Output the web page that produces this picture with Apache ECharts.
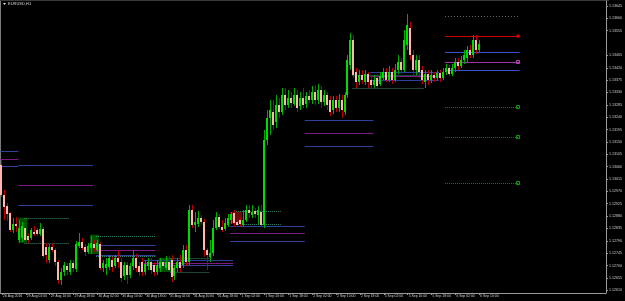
<!DOCTYPE html>
<html><head><meta charset="utf-8">
<script src="https://cdn.jsdelivr.net/npm/echarts@6/dist/echarts.min.js"></script>
<style>html,body{margin:0;padding:0;background:#000;}#c{width:625px;height:301px;}</style>
</head><body><div id="c"></div>
<script>
// ---- data ----
const title = 'EURUSD,H1';
const xTickLabels = ['26 Aug 2016','29 Aug 02:00','29 Aug 10:00','29 Aug 18:00','30 Aug 02:00','30 Aug 10:00','30 Aug 18:00','31 Aug 02:00','31 Aug 10:00','31 Aug 18:00','1 Sep 02:00','1 Sep 10:00','1 Sep 18:00','2 Sep 02:00','2 Sep 10:00','2 Sep 18:00','5 Sep 02:00','5 Sep 10:00','5 Sep 18:00','6 Sep 02:00','6 Sep 10:00'];
const yTickLabels = [1.13645,1.13600,1.13555,1.13465,1.13420,1.13375,1.13330,1.13285,1.13240,1.13195,1.13150,1.13105,1.13060,1.13015,1.12970,1.12925,1.12880,1.12835,1.12790,1.12745,1.12700,1.12655,1.12610];
const openP = [1.13066,1.12957,1.12917,1.12892,1.12830,1.12852,1.12793,1.12801,1.12837,1.12808,1.12801,1.12823,1.12830,1.12815,1.12833,1.12768,1.12721,1.12768,1.12757,1.12713,1.12648,1.12677,1.12699,1.12677,1.12710,1.12688,1.12772,1.12786,1.12768,1.12750,1.12764,1.12779,1.12757,1.12779,1.12692,1.12692,1.12695,1.12721,1.12699,1.12728,1.12713,1.12662,1.12702,1.12666,1.12699,1.12728,1.12699,1.12713,1.12677,1.12699,1.12713,1.12702,1.12677,1.12692,1.12713,1.12692,1.12713,1.12721,1.12662,1.12692,1.12713,1.12702,1.12757,1.12713,1.12903,1.12848,1.12852,1.12874,1.12859,1.12757,1.12732,1.12746,1.12837,1.12877,1.12841,1.12833,1.12848,1.12866,1.12892,1.12859,1.12866,1.12848,1.12866,1.12903,1.12884,1.12899,1.12884,1.12895,1.12848,1.13157,1.13237,1.13259,1.13223,1.13285,1.13259,1.13321,1.13285,1.13310,1.13288,1.13321,1.13281,1.13310,1.13288,1.13318,1.13303,1.13332,1.13303,1.13339,1.13296,1.13321,1.13303,1.13267,1.13303,1.13274,1.13303,1.13259,1.13321,1.13430,1.13521,1.13405,1.13368,1.13394,1.13368,1.13398,1.13376,1.13358,1.13383,1.13361,1.13383,1.13405,1.13376,1.13405,1.13376,1.13412,1.13441,1.13412,1.13503,1.13565,1.13467,1.13412,1.13449,1.13412,1.13368,1.13398,1.13376,1.13394,1.13383,1.13401,1.13383,1.13405,1.13419,1.13398,1.13419,1.13441,1.13427,1.13449,1.13456,1.13485,1.13467,1.13521,1.13485];
const highP = [1.13085,1.12975,1.12928,1.12895,1.12874,1.12877,1.12866,1.12859,1.12848,1.12819,1.12837,1.12844,1.12837,1.12855,1.12841,1.12783,1.12779,1.12783,1.12764,1.12721,1.12692,1.12713,1.12710,1.12721,1.12721,1.12790,1.12819,1.12801,1.12779,1.12783,1.12808,1.12793,1.12793,1.12786,1.12721,1.12728,1.12739,1.12732,1.12739,1.12757,1.12728,1.12713,1.12713,1.12710,1.12757,1.12742,1.12713,1.12728,1.12721,1.12728,1.12728,1.12713,1.12721,1.12728,1.12728,1.12735,1.12735,1.12739,1.12702,1.12728,1.12739,1.12775,1.12775,1.12921,1.12921,1.12895,1.12899,1.12884,1.12870,1.12764,1.12793,1.12866,1.12895,1.12888,1.12866,1.12874,1.12888,1.12895,1.12903,1.12874,1.12877,1.12903,1.12921,1.12921,1.12921,1.12910,1.12917,1.12921,1.13194,1.13267,1.13303,1.13303,1.13321,1.13310,1.13347,1.13347,1.13339,1.13332,1.13347,1.13339,1.13332,1.13347,1.13332,1.13339,1.13354,1.13358,1.13361,1.13354,1.13339,1.13332,1.13318,1.13318,1.13318,1.13325,1.13321,1.13332,1.13467,1.13547,1.13540,1.13419,1.13412,1.13412,1.13412,1.13405,1.13390,1.13394,1.13398,1.13405,1.13419,1.13419,1.13427,1.13419,1.13434,1.13467,1.13456,1.13558,1.13616,1.13587,1.13485,1.13467,1.13467,1.13427,1.13412,1.13412,1.13412,1.13405,1.13412,1.13412,1.13419,1.13434,1.13430,1.13434,1.13456,1.13456,1.13463,1.13485,1.13500,1.13503,1.13540,1.13540,1.13521];
const lowP = [1.12950,1.12866,1.12863,1.12823,1.12819,1.12823,1.12783,1.12786,1.12786,1.12783,1.12793,1.12808,1.12808,1.12808,1.12728,1.12710,1.12710,1.12750,1.12699,1.12633,1.12630,1.12662,1.12666,1.12666,1.12677,1.12677,1.12764,1.12757,1.12735,1.12742,1.12742,1.12750,1.12750,1.12684,1.12677,1.12666,1.12684,1.12677,1.12692,1.12692,1.12641,1.12648,1.12633,1.12655,1.12684,1.12677,1.12662,1.12662,1.12666,1.12684,1.12670,1.12662,1.12666,1.12677,1.12684,1.12684,1.12677,1.12641,1.12648,1.12677,1.12677,1.12692,1.12699,1.12702,1.12837,1.12823,1.12841,1.12848,1.12732,1.12684,1.12713,1.12735,1.12830,1.12833,1.12823,1.12826,1.12841,1.12852,1.12841,1.12841,1.12841,1.12841,1.12859,1.12874,1.12874,1.12874,1.12848,1.12841,1.12837,1.13139,1.13176,1.13194,1.13201,1.13237,1.13248,1.13267,1.13274,1.13274,1.13281,1.13259,1.13267,1.13274,1.13274,1.13292,1.13288,1.13285,1.13288,1.13274,1.13281,1.13267,1.13245,1.13252,1.13259,1.13259,1.13237,1.13248,1.13310,1.13412,1.13383,1.13347,1.13358,1.13361,1.13358,1.13347,1.13347,1.13347,1.13347,1.13354,1.13376,1.13368,1.13368,1.13361,1.13368,1.13398,1.13398,1.13405,1.13485,1.13449,1.13394,1.13394,1.13383,1.13361,1.13347,1.13358,1.13365,1.13368,1.13376,1.13368,1.13376,1.13394,1.13390,1.13390,1.13405,1.13412,1.13419,1.13434,1.13441,1.13456,1.13456,1.13470,1.13478];
const closeP = [1.12957,1.12914,1.12888,1.12830,1.12852,1.12844,1.12837,1.12844,1.12793,1.12793,1.12830,1.12815,1.12815,1.12833,1.12735,1.12739,1.12768,1.12757,1.12713,1.12648,1.12677,1.12702,1.12684,1.12710,1.12692,1.12779,1.12786,1.12764,1.12750,1.12772,1.12783,1.12764,1.12783,1.12692,1.12710,1.12706,1.12728,1.12695,1.12728,1.12713,1.12655,1.12702,1.12666,1.12699,1.12728,1.12692,1.12677,1.12677,1.12706,1.12713,1.12684,1.12677,1.12702,1.12713,1.12699,1.12713,1.12684,1.12659,1.12692,1.12713,1.12692,1.12757,1.12713,1.12903,1.12848,1.12859,1.12874,1.12859,1.12757,1.12739,1.12746,1.12837,1.12877,1.12841,1.12830,1.12855,1.12874,1.12888,1.12855,1.12848,1.12852,1.12866,1.12903,1.12892,1.12895,1.12888,1.12903,1.12848,1.13157,1.13237,1.13267,1.13212,1.13285,1.13259,1.13321,1.13285,1.13310,1.13292,1.13321,1.13274,1.13310,1.13285,1.13318,1.13303,1.13332,1.13303,1.13339,1.13296,1.13321,1.13285,1.13259,1.13303,1.13274,1.13303,1.13267,1.13321,1.13449,1.13521,1.13394,1.13368,1.13394,1.13376,1.13398,1.13368,1.13358,1.13376,1.13354,1.13390,1.13405,1.13376,1.13405,1.13376,1.13412,1.13441,1.13412,1.13521,1.13576,1.13467,1.13412,1.13449,1.13405,1.13376,1.13398,1.13376,1.13394,1.13383,1.13401,1.13383,1.13405,1.13419,1.13398,1.13419,1.13441,1.13427,1.13449,1.13467,1.13485,1.13467,1.13521,1.13485,1.13507];
// indicator levels: [startBar, endBar, price]
const blueLevels = [[0,5,1.13117],[0,5,1.13063],[6,30,1.13066],[6,30,1.12921],[32,51,1.12775],[32,51,1.12739],[48,77,1.12721],[48,77,1.12702],[77,101,1.12844],[77,101,1.12790],[102,124,1.13230],[102,124,1.13136],[124,146,1.13405],[124,146,1.13376]];
const purpleLevels = [[0,5,1.13088],[6,30,1.12994],[32,51,1.12757],[48,77,1.12710],[77,101,1.12819],[102,124,1.13183],[124,146,1.13390]];
const dottedLevels = [[8,22,1.12874],[8,22,1.12783],[32,51,1.12808],[32,51,1.12735],[57,69,1.12728],[57,69,1.12677],[79,93,1.12899],[79,93,1.12852],[118,141,1.13394],[118,141,1.13347]];
// zones: [startBar, endBar, low, high]
const greenZones = [[6,8,1.12783,1.12874],[30,32,1.12742,1.12812],[53,57,1.12677,1.12728]];
const redZones = [[77,80,1.12852,1.12895]];
// projection levels (right side)
const projBlue = [[149,173,1.13478],[149,173,1.13412]];
const projPurple = [[149,173,1.13441]];
const projRed = [[149,173,1.13536]];
const projGrey = [[149,173,1.13609]];
const projGreen = [[149,173,1.13278],[149,173,1.13168],[149,173,1.13001]];
const totalBars = 203;

// ---- chart ----
const chart = echarts.init(document.getElementById('c'), null, {renderer:'canvas'});
const cats = Array.from({length: totalBars}, (_, i) => String(i));
const lastClose = closeP[closeP.length-1];
const candleData = openP.map((o,i)=>[i,o,closeP[i],lowP[i],highP[i]]);

function candleItem(params, api){
  const i = api.value(0), o = api.value(1), c = api.value(2), l = api.value(3), h = api.value(4);
  const pO = api.coord([i,o]), pC = api.coord([i,c]), pL = api.coord([i,l]), pH = api.coord([i,h]);
  const cx = Math.floor(pO[0]);
  const bull = c >= o;
  const top = Math.round(Math.min(pO[1],pC[1])), bot = Math.round(Math.max(pO[1],pC[1]));
  return {type:'group', children:[
    {type:'rect', shape:{x:cx, y:Math.round(pH[1]), width:1, height:Math.max(1,Math.round(pL[1])-Math.round(pH[1]))}, style:{fill: bull ? '#00a800' : '#b40000'}},
    {type:'rect', shape:{x:cx-1, y:top, width:2, height:Math.max(1,bot-top)}, style:{fill: bull ? '#00dc00' : '#ffb8ac'}}
  ]};
}
function levelSeries(data, color, dash, width){
  return {type:'custom', data:data, silent:true, clip:false, encode:{x:[0,1], y:2},
    renderItem:function(params, api){
      const p1 = api.coord([api.value(0), api.value(2)]);
      const p2 = api.coord([api.value(1), api.value(2)]);
      const y = Math.round(p1[1]) + 0.5;
      return {type:'line', shape:{x1:p1[0]-1.5, y1:y, x2:p2[0]+1.5, y2:y},
        style:{stroke:color, lineWidth:width||1, lineDash:dash||null}};
    }};
}
function zoneSeries(data, color){
  return {type:'custom', data:data, silent:true, encode:{x:[0,1], y:[2,3]},
    renderItem:function(params, api){
      const p1 = api.coord([api.value(0), api.value(3)]);
      const p2 = api.coord([api.value(1), api.value(2)]);
      return {type:'rect', shape:{x:p1[0]-1.5, y:p1[1], width:p2[0]-p1[0]+3, height:p2[1]-p1[1]}, style:{fill:color}};
    }};
}
function squareSeries(data, color, filled){
  return {type:'custom', data:data, silent:true, clip:false, encode:{x:1, y:2},
    renderItem:function(params, api){
      const p = api.coord([api.value(1), api.value(2)]);
      return {type:'rect', shape:{x:Math.round(p[0])-1.5, y:Math.round(p[1])-1.5, width:3, height:3},
        style: filled ? {fill:color} : {fill:'none', stroke:color, lineWidth:1}};
    }};
}

const xFont = {fontFamily:'Liberation Sans', fontSize:3.4, color:'#cfcfcf'};
const yFont = {fontFamily:'Liberation Sans', fontSize:3.6, color:'#cfcfcf'};
chart.setOption({
  backgroundColor:'#000000',
  animation:false,
  grid:{left:0, right:16, top:1, bottom:8},
  xAxis:{type:'category', data:cats, boundaryGap:true,
    axisLine:{show:true, lineStyle:{color:'#9a9a9a', width:1}},
    axisTick:{show:true, alignWithLabel:true, length:2, lineStyle:{color:'#9a9a9a'},
      interval:function(idx){ return idx % 8 === 0 && idx/8 < xTickLabels.length; }},
    axisLabel:Object.assign({show:true, align:'left', margin:2, padding:[0,0,0,1],
      interval:function(idx){ return idx % 8 === 0 && idx/8 < xTickLabels.length; },
      formatter:function(v, idx){ const k = Number(v)/8; return xTickLabels[k] || ''; }}, xFont),
    splitLine:{show:false}},
  yAxis:{type:'value', position:'right', min:1.12600, max:1.13663, scale:true,
    axisLine:{show:true, lineStyle:{color:'#9a9a9a', width:1}},
    axisTick:{show:true, length:2, lineStyle:{color:'#9a9a9a'}, customValues:yTickLabels},
    axisLabel:Object.assign({show:true, margin:3, customValues:yTickLabels, formatter:function(v){return v.toFixed(5);}}, yFont),
    splitLine:{show:false}},
  graphic:[
    {type:'rect', shape:{x:0, y:0, width:1, height:293}, style:{fill:'#7a7a7a'}, silent:true},
    {type:'rect', shape:{x:0, y:0, width:609, height:1}, style:{fill:'#3a3a3a'}, silent:true},
    {type:'polygon', shape:{points:[[3,3],[6,3],[4.5,5]]}, style:{fill:'#e0e0e0'}, silent:true},
    {type:'text', x:8, y:2, style:{text:title, fontFamily:'Liberation Sans', fontSize:4, fill:'#d8d8d8'}, silent:true}
  ],
  series:[
    zoneSeries(greenZones, 'rgba(0,150,0,0.55)'),
    zoneSeries(redZones, 'rgba(170,20,20,0.6)'),
    levelSeries(blueLevels, '#2f3f9c'),
    levelSeries(purpleLevels, '#7c1c80'),
    levelSeries(dottedLevels, '#3a8a70', [1,1]),
    levelSeries(projBlue, '#3a52d0'),
    levelSeries(projPurple, '#a030a8'),
    levelSeries(projRed, '#d40000'),
    levelSeries(projGrey, '#6a6a6a', [1,2]),
    levelSeries(projGreen, '#008a00', [1,1]),
    squareSeries(projRed, '#e00000', true),
    squareSeries(projPurple, '#c040c0', false),
    squareSeries(projGreen, '#00a000', false),
    {type:'custom', data:candleData, renderItem:candleItem, encode:{x:0, y:[1,2,3,4]}, silent:true,
      markLine:{silent:true, symbol:['none','none'], animation:false,
        lineStyle:{color:'#525c74', width:1, type:'solid'},
        label:{show:true, position:'end', distance:1, formatter:function(p){return p.value.toFixed(5);},
          backgroundColor:'#ffffff', color:'#000000', fontFamily:'Liberation Sans', fontSize:3.6, padding:[1,1,0,1]},
        data:[{yAxis:lastClose}]}}
  ]
});
</script></body></html>
